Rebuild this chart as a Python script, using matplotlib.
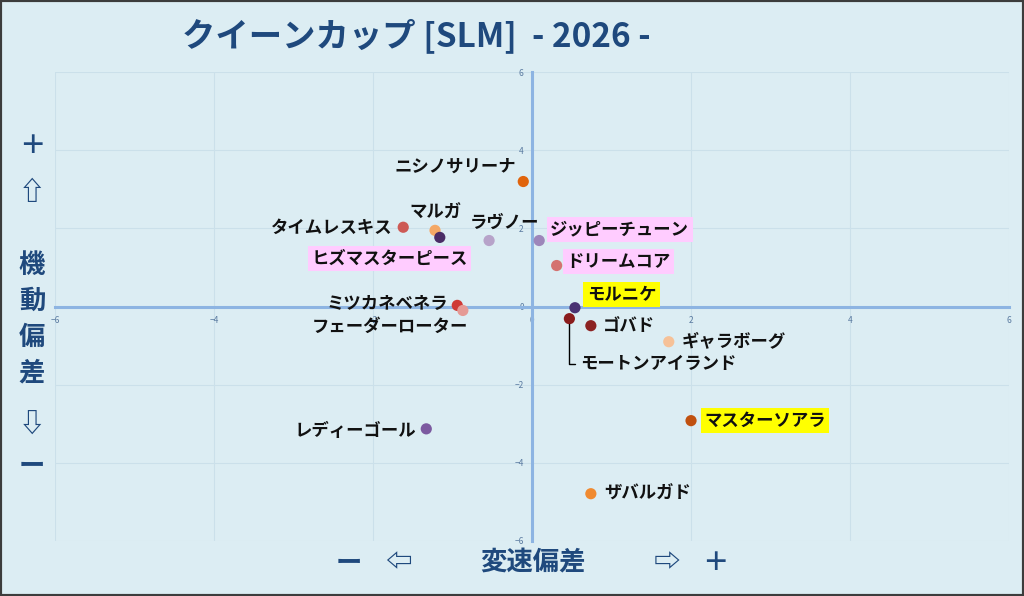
import matplotlib.pyplot as plt
from matplotlib.patches import Rectangle

plt.rcParams['font.family'] = ['Noto Sans CJK JP', 'DejaVu Sans']

# horses: 変速偏差 (x), 機動偏差 (y)
names = ['ニシノサリーナ', 'タイムレスキス', 'マルガ', 'ヒズマスターピース', 'ラヴノー',
         'ジッピーチューン', 'ドリームコア', 'モルニケ', 'ミツカネベネラ', 'フェーダーローター',
         'モートンアイランド', 'ゴバド', 'ギャラボーグ', 'マスターソアラ', 'レディーゴール', 'ザバルガド']
xs = [-0.11, -1.62, -1.22, -1.16, -0.54, 0.09, 0.31, 0.54, -0.94, -0.87,
      0.47, 0.74, 1.72, 2.0, -1.33, 0.74]
ys = [3.2, 2.03, 1.95, 1.77, 1.69, 1.69, 1.05, -0.03, 0.03, -0.1,
      -0.31, -0.49, -0.9, -2.92, -3.13, -4.79]
highlight = ['', '', '', 'pink', '', 'pink', 'pink', 'yellow', '', '',
             '', '', '', 'yellow', '', '']
ticks = [-6, -4, -2, 0, 2, 4, 6]

colors = ['#e0640c', '#cd5a55', '#f4a865', '#4a2c66', '#b7a3c9',
          '#9d86ba', '#d47270', '#4a3272', '#cf3a36', '#e59a95',
          '#8a1c1c', '#8c2222', '#f6c198', '#c0500f', '#7c5aa0', '#f08a30']

# label placement (pixel offset from marker, horizontal align)
offs = [(-7, 15, 'right'), (-11, -1, 'right'), (0, 18, 'center'), (28, -21, 'right'),
        (15, 18, 'center'), (11, 11, 'left'), (10, 4, 'left'), (12, 13, 'left'),
        (-9, 1, 'right'), (5, -16, 'right'), (11, -45, 'left'), (12, 0, 'left'),
        (13, 1, 'left'), (13, 0, 'left'), (-10, -2, 'right'), (13, 0, 'left')]

bg = '#dcedf3'
navy = '#1f497d'
axblue = '#8db4e2'

fig = plt.figure(figsize=(10.24, 5.96), dpi=100, facecolor=bg)
ax = fig.add_axes([0.0537, 0.0923, 0.9317, 0.7867])
ax.set_facecolor(bg)
ax.set_xlim(-6, 6)
ax.set_ylim(-6, 6)
ax.set_xticks(ticks)
ax.set_yticks(ticks)
ax.grid(True, color='#cbe0ea', lw=0.8)
ax.set_axisbelow(True)
for s in ['top', 'right']:
    ax.spines[s].set_visible(False)
for s in ['left', 'bottom']:
    ax.spines[s].set_position('zero')
    ax.spines[s].set_color(axblue)
    ax.spines[s].set_linewidth(2.2)
    ax.spines[s].set_zorder(1.5)
ax.tick_params(length=0, labelsize=6, labelcolor='#5a7aa0')
ax.tick_params(axis='x', pad=7)
ax.tick_params(axis='y', pad=6)

ax.scatter(xs, ys, s=65, c=colors, zorder=3, edgecolors='none')

boxcol = {'pink': '#ffccff', 'yellow': '#ffff00'}
for i, n in enumerate(names):
    dx, dy, ha = offs[i]
    kw = {}
    if highlight[i]:
        kw['bbox'] = dict(boxstyle='square,pad=0.2', fc=boxcol[highlight[i]], ec='none')
    if n == 'モートンアイランド':
        kw['arrowprops'] = dict(arrowstyle='-', color='black', lw=1, shrinkA=2, shrinkB=4,
                                relpos=(0, 0.5),
                                connectionstyle='angle,angleA=0,angleB=90,rad=0')
    ax.annotate(n, (xs[i], ys[i]), xytext=(dx, dy), textcoords='offset pixels',
                ha=ha, va='center', fontsize=12.5, fontweight='bold', color='#111111',
                zorder=4, **kw)

fig.text(0.407, 0.94, 'クイーンカップ [SLM]  - 2026 -', ha='center', va='center',
         fontsize=24, fontweight='bold', color=navy)

# vertical axis caption
for t, yp in [('＋', 147), ('⇧', 193), ('機', 265), ('動', 301), ('偏', 337), ('差', 373),
              ('⇩', 424), ('ー', 466)]:
    fig.text(32 / 1024, 1 - yp / 596, t, ha='center', va='center', fontsize=19,
             fontweight='bold', color=navy)

# horizontal axis caption
for t, xp in [('ー', 349), ('⇦', 398), ('変速偏差', 533), ('⇨', 667), ('＋', 715)]:
    fig.text(xp / 1024, 1 - 563 / 596, t, ha='center', va='center', fontsize=19,
             fontweight='bold', color=navy)

fig.patches.append(Rectangle((0, 0), 1, 1, transform=fig.transFigure, fill=False,
                             edgecolor='#3c3c3c', lw=3))

fig.savefig('out.png', dpi=100, facecolor=bg)
